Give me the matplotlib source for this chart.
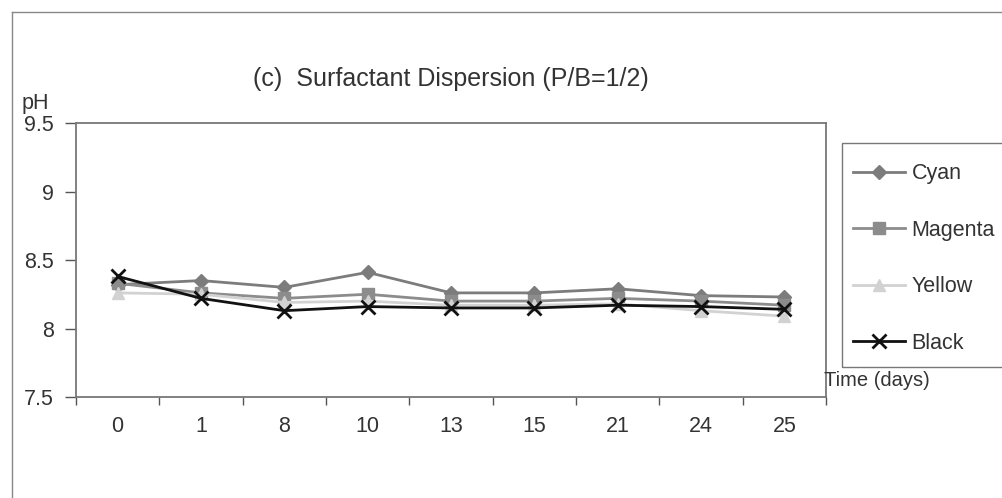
import matplotlib
matplotlib.use("Agg")
import matplotlib.pyplot as plt
from matplotlib.lines import Line2D
from matplotlib.patches import Rectangle

plt.rcParams["font.family"] = ["Liberation Sans", "DejaVu Sans"]

# pH readings over storage time
DAYS = ["0", "1", "8", "10", "13", "15", "21", "24", "25"]
CYAN = [8.32, 8.35, 8.30, 8.41, 8.26, 8.26, 8.29, 8.24, 8.23]
MAGENTA = [8.33, 8.26, 8.22, 8.25, 8.20, 8.20, 8.22, 8.20, 8.17]
YELLOW = [8.26, 8.25, 8.19, 8.20, 8.17, 8.17, 8.18, 8.13, 8.09]
BLACK = [8.38, 8.22, 8.13, 8.16, 8.15, 8.15, 8.17, 8.16, 8.14]

SERIES = [
    ("Cyan", CYAN, "#7c7c7c", "D", 7),
    ("Magenta", MAGENTA, "#8c8c8c", "s", 8),
    ("Yellow", YELLOW, "#d2d2d2", "^", 8),
    ("Black", BLACK, "#111111", "x", 10),
]

FS = 15.5
W, H = 1002, 498

fig = plt.figure(figsize=(W / 100, H / 100), dpi=100)
ax = fig.add_axes([76 / W, 1 - 397 / H, 750 / W, 274 / H])

xs = list(range(len(DAYS)))
for name, vals, color, marker, ms in SERIES:
    ax.plot(xs, vals, color=color, lw=2, marker=marker, ms=ms,
            mew=2 if marker == "x" else 1, label=name)

ax.set_xlim(-0.5, len(DAYS) - 0.5)
ax.set_ylim(7.5, 9.5)
ax.set_yticks([7.5, 8, 8.5, 9, 9.5])
ax.set_yticklabels(["7.5", "8", "8.5", "9", "9.5"])
ax.set_xticks(xs)
ax.set_xticklabels(DAYS)
ax.set_xticks([x - 0.5 for x in range(len(DAYS) + 1)], minor=True)
ax.tick_params(axis="x", which="major", length=0, pad=14, labelsize=FS,
               colors="#333333")
ax.tick_params(axis="x", which="minor", length=6, width=1, color="#555555")
ax.tick_params(axis="y", length=8, width=1, color="#555555", labelsize=FS,
               labelcolor="#333333", pad=8)
for sp in ax.spines.values():
    sp.set_color("#777777")
    sp.set_linewidth(1.3)

fig.text(451 / W, 1 - 79 / H, "(c)  Surfactant Dispersion (P/B=1/2)",
         ha="center", va="center", fontsize=18, color="#333333")
fig.text(22 / W, 1 - 103 / H, "pH", ha="left", va="center",
         fontsize=FS, color="#333333")
fig.text(824 / W, 1 - 381 / H, "Time (days)", ha="left", va="center",
         fontsize=14.5, color="#333333")

# outer chart frame
fig.add_artist(Line2D([12 / W, 12 / W], [0, 1 - 12 / H],
                      transform=fig.transFigure, color="#888888", lw=1))
fig.add_artist(Line2D([12 / W, 1], [1 - 12 / H, 1 - 12 / H],
                      transform=fig.transFigure, color="#888888", lw=1))

# legend box drawn separately so the entries can sit close to its left edge
fig.add_artist(Rectangle((842 / W, 1 - 367 / H), 180 / W, 224 / H,
                         transform=fig.transFigure, fill=False,
                         edgecolor="#777777", lw=1))
leg = ax.legend(loc="upper left", bbox_to_anchor=(835 / W, 1 - 145 / H),
                bbox_transform=fig.transFigure, frameon=False,
                fontsize=FS, handlelength=2.4, handletextpad=0.3,
                labelspacing=1.65, borderpad=0.85, borderaxespad=0)
for t in leg.get_texts():
    t.set_color("#333333")

fig.savefig("out.png", dpi=100)
